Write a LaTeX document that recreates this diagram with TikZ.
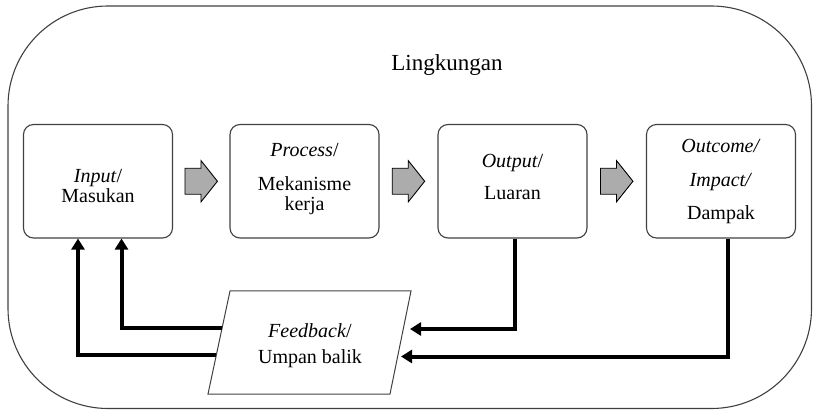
\documentclass[tikz,border=0pt]{standalone}
\usepackage{fontspec}
\setmainfont{Liberation Serif}
\usetikzlibrary{arrows.meta,calc}
\definecolor{edgegray}{RGB}{64,64,64}
\definecolor{arrowfill}{RGB}{172,172,172}

\begin{document}
\begin{tikzpicture}[x=1pt,y=-1pt,
  envbox/.style={draw=edgegray, line width=1.1pt, rounded corners=100pt,
    minimum width=803.5pt, minimum height=402.5pt, inner sep=0pt},
  stagebox/.style={draw=edgegray, line width=1.1pt, rounded corners=10pt,
    minimum width=149pt, minimum height=113.5pt, inner sep=0pt},
  fbshape/.style={draw=edgegray, line width=1pt, line join=miter},
  txt/.style={anchor=base, inner sep=0pt, font=\fontsize{20pt}{24pt}\selectfont},
  bigtxt/.style={anchor=base, inner sep=0pt, font=\fontsize{23pt}{27pt}\selectfont},
  fbline/.style={line width=4pt, line join=miter, -{Triangle[length=11pt,width=13pt]}},
  blockarrow/.pic={
    \draw[line width=0.9pt, fill=arrowfill, line join=miter]
      (-16.3,-13) -- (-0.3,-13) -- (-0.3,-20.7) -- (16.2,0)
      -- (-0.3,20.7) -- (-0.3,13) -- (-16.3,13) -- cycle;}
]
\useasboundingbox (0,0) rectangle (813,411);

% environment
\node[envbox] (env) at (409.75,207.25) {};
\node[bigtxt] (envlabel) at (447,71) {Lingkungan};

% stages
\node[stagebox] (input)   at (98,181.25)  {};
\node[stagebox] (process) at (304.5,181.25) {};
\node[stagebox] (output)  at (512.5,181.25) {};
\node[stagebox] (outcome) at (721,181.25) {};

\node[txt] (input1)   at (98,183)    {\textit{Input}/};
\node[txt] (input2)   at (98,203)    {Masukan};
\node[txt] (process1) at (304.5,157) {\textit{Process}/};
\node[txt] (process2) at (304.5,191) {Mekanisme};
\node[txt] (process3) at (304.5,211) {kerja};
\node[txt] (output1)  at (512.5,168) {\textit{Output}/};
\node[txt] (output2)  at (512.5,200) {Luaran};
\node[txt] (outcome1) at (721,153)   {\textit{Outcome/}};
\node[txt] (outcome2) at (721,187)   {\textit{Impact/}};
\node[txt] (outcome3) at (721,220)   {Dampak};

% flow arrows between stages
\path ($(input.east)!0.5!(process.west)$) pic {blockarrow};
\path ($(process.east)!0.5!(output.west)$) pic {blockarrow};
\path ($(output.east)!0.5!(outcome.west)$) pic {blockarrow};

% feedback parallelogram
\coordinate (fbA) at (230,291);
\coordinate (fbB) at (411,291);
\coordinate (fbC) at (390,394);
\coordinate (fbD) at (208,394);
\draw[fbshape] (fbA) -- (fbB) -- (fbC) -- (fbD) -- cycle;
\node[txt] (fb1) at (310,337) {\textit{Feedback}/};
\node[txt] (fb2) at (310,363) {Umpan balik};

% feedback loop ends
\coordinate (fbout1) at ($(fbA)!0.359!(fbD)$);
\coordinate (fbout2) at ($(fbA)!0.621!(fbD)$);
\coordinate (fbin1) at (410,329);
\coordinate (fbin2) at (401,356.5);

\draw[fbline] ([xshift=2.5pt]output.south) |- (fbin1);
\draw[fbline] ([xshift=7.3pt]outcome.south) |- (fbin2);
\draw[fbline] (fbout1) -| ([xshift=23.5pt]input.south);
\draw[fbline] (fbout2) -| ([xshift=-20pt]input.south);
\end{tikzpicture}
\end{document}
